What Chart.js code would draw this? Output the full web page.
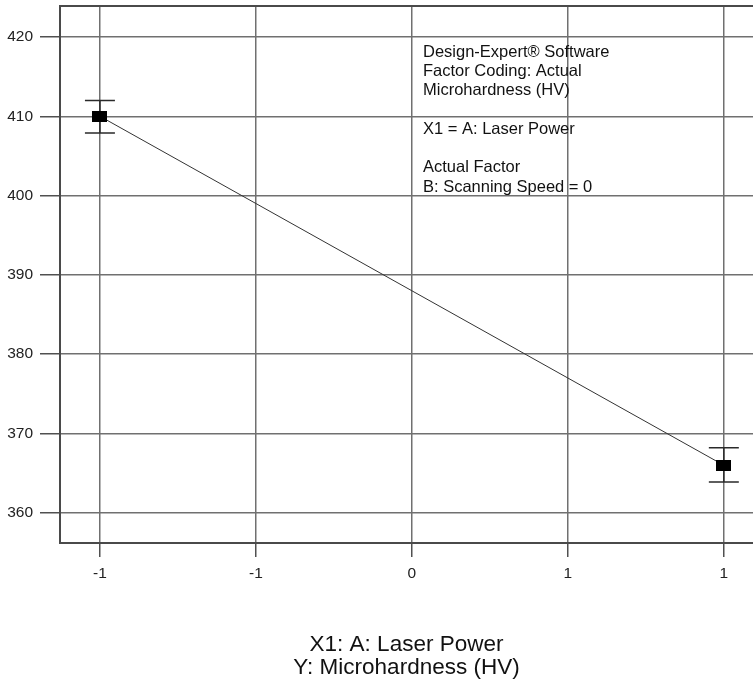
<!DOCTYPE html>
<html>
<head>
<meta charset="utf-8">
<script src="https://cdn.jsdelivr.net/npm/chart.js@4.4.1/dist/chart.umd.min.js"></script>
<style>
  html, body { margin: 0; padding: 0; background: #ffffff; overflow: hidden; }
  #wrap { width: 753px; height: 679px; }
</style>
</head>
<body>
<div id="wrap"><canvas id="c" width="753" height="679"></canvas></div>
<script>
// One-factor effect plot: Microhardness (HV) against coded Laser Power
const factorLevels = [-1, 1];
const microhardness = [410, 366];
const errLow = [407.9, 363.9];
const errHigh = [412.0, 368.2];
const xTickValues = [-1, -0.5, 0, 0.5, 1];
const xTickLabels = ['-1', '-1', '0', '1', '1'];
const yTickValues = [360, 370, 380, 390, 400, 410, 420];
const infoLines = [
  'Design-Expert\u00AE Software',
  'Factor Coding: Actual',
  'Microhardness (HV)',
  '',
  'X1 = A: Laser Power',
  '',
  'Actual Factor',
  'B: Scanning Speed = 0'
];
const axisTitleLines = ['X1: A: Laser Power', 'Y: Microhardness (HV)'];

const FONT = '"Liberation Sans", Arial, sans-serif';

// solid rectangular marker for the design points
const marker = document.createElement('canvas');
marker.width = 15; marker.height = 11;
(function () {
  const m = marker.getContext('2d');
  m.fillStyle = '#000000';
  m.fillRect(0, 0, 15, 11);
})();

// error bars with caps, placed through the chart scales
const errorBars = {
  id: 'errorBars',
  beforeDatasetsDraw(chart) {
    const { ctx, scales: { x, y } } = chart;
    ctx.save();
    ctx.strokeStyle = '#2a2a2a';
    ctx.lineWidth = 1.5;
    for (let i = 0; i < factorLevels.length; i++) {
      const px = x.getPixelForValue(factorLevels[i]);
      const pLo = y.getPixelForValue(errLow[i]);
      const pHi = y.getPixelForValue(errHigh[i]);
      const half = 15;
      ctx.beginPath();
      ctx.moveTo(px, pLo); ctx.lineTo(px, pHi);
      ctx.moveTo(px - half, pLo); ctx.lineTo(px + half, pLo);
      ctx.moveTo(px - half, pHi); ctx.lineTo(px + half, pHi);
      ctx.stroke();
    }
    ctx.restore();
  }
};

// top frame line and the software info block
const frameAndInfo = {
  id: 'frameAndInfo',
  afterDraw(chart) {
    const { ctx, chartArea: a } = chart;
    ctx.save();
    ctx.strokeStyle = '#4a4a4a';
    ctx.lineWidth = 2;
    ctx.beginPath();
    ctx.moveTo(a.left - 1, a.top);
    ctx.lineTo(a.right, a.top);
    ctx.stroke();

    ctx.fillStyle = '#111111';
    ctx.font = '16.5px ' + FONT;
    ctx.textAlign = 'left';
    ctx.textBaseline = 'alphabetic';
    const x0 = a.left + 363;
    const y0 = a.top + 50.5;
    infoLines.forEach((t, i) => {
      if (t) ctx.fillText(t, x0, y0 + i * 19.3);
    });
    ctx.restore();
  }
};

function noEdgePadding(scale) {
  scale.paddingTop = 0;
  scale.paddingBottom = 0;
  scale.paddingLeft = 0;
  scale.paddingRight = 0;
}

new Chart(document.getElementById('c'), {
  type: 'line',
  data: {
    datasets: [{
      data: factorLevels.map((v, i) => ({ x: v, y: microhardness[i] })),
      borderColor: '#333333',
      borderWidth: 1,
      pointStyle: marker,
      pointRadius: 7,
      pointHoverRadius: 7,
      tension: 0,
      fill: false
    }]
  },
  options: {
    responsive: false,
    animation: false,
    devicePixelRatio: 1,
    layout: { autoPadding: false, padding: { top: 6, right: 0, bottom: 0, left: 0 } },
    plugins: {
      legend: { display: false },
      tooltip: { enabled: false },
      title: { display: false }
    },
    scales: {
      x: {
        type: 'linear',
        min: -1.128,
        max: 1.0935,
        afterFit(scale) { scale.height = 136; noEdgePadding(scale); },
        afterBuildTicks(scale) { scale.ticks = xTickValues.map(v => ({ value: v })); },
        ticks: {
          autoSkip: false,
          maxRotation: 0,
          padding: 7,
          color: '#222222',
          font: { family: FONT, size: 15.5 },
          callback(value, index) { return xTickLabels[index]; }
        },
        grid: {
          color: '#707070',
          lineWidth: 1.5,
          drawTicks: true,
          tickLength: 14,
          tickColor: '#505050',
          tickWidth: 1.5
        },
        border: { display: true, color: '#4a4a4a', width: 2 },
        title: {
          display: true,
          text: axisTitleLines,
          color: '#111111',
          font: { family: FONT, size: 22.5, lineHeight: 1.0 },
          padding: { top: 0, bottom: 0 }
        }
      },
      y: {
        type: 'linear',
        min: 356.2,
        max: 423.9,
        afterFit(scale) { scale.width = 60; noEdgePadding(scale); },
        afterBuildTicks(scale) { scale.ticks = yTickValues.map(v => ({ value: v })); },
        ticks: {
          padding: 7,
          color: '#222222',
          font: { family: FONT, size: 15.5 }
        },
        grid: {
          color: '#707070',
          lineWidth: 1.5,
          drawTicks: true,
          tickLength: 20,
          tickColor: '#505050',
          tickWidth: 1.5
        },
        border: { display: true, color: '#4a4a4a', width: 2 }
      }
    }
  },
  plugins: [errorBars, frameAndInfo]
});
</script>
</body>
</html>
